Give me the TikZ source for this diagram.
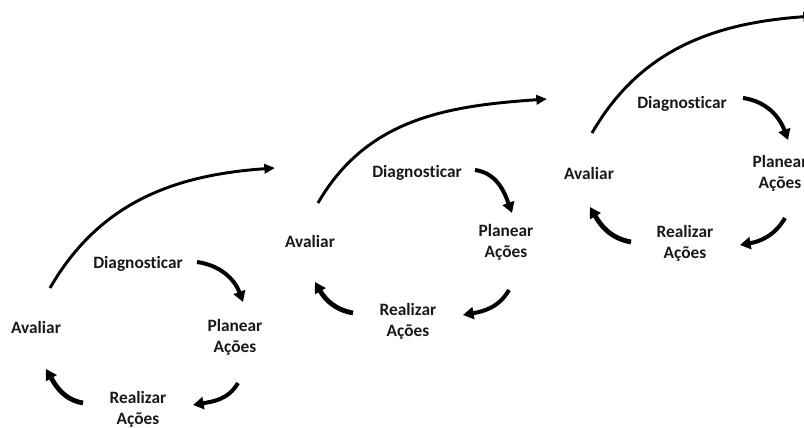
\documentclass[tikz,border=0pt]{standalone}
\usepackage{fontspec}
\setmainfont{Carlito}[Ligatures=NoCommon]
\usetikzlibrary{arrows.meta,calc}
\begin{document}
\begin{tikzpicture}[x=0.75pt,y=0.75pt,
  lbl/.style={font=\bfseries\fontsize{13}{15.75}\selectfont, align=center, inner sep=0pt, text=black!90},
  turn/.style={line width=3pt, -{Triangle[length=8pt,width=9pt]}},
  back/.style={turn, line width=3.6pt},
  leap/.style={line width=2.2pt, -{Triangle[length=8pt,width=7pt]}}]
\useasboundingbox (0,0) rectangle (804,428);
\clip (0,0) rectangle (804,428);

% ---- first cycle ----
\node[lbl] (d1) at (138,164) {Diagnosticar};
\node[lbl] (p1) at (235,90.5) {Planear\\Ações};
\node[lbl] (r1) at (138,18.5) {Realizar\\Ações};
\node[lbl] (a1) at (36,101) {Avaliar};
\draw[turn] ($(d1)+(59,2)$) to[out=-8,in=110] ($(p1)+(8,35.5)$);
\draw[turn] ($(p1)+(3,-45.5)$) to[out=-120,in=10] ($(r1)+(55,4.5)$);
\draw[back] ($(r1)+(-55,6.5)$) to[out=170,in=-60] ($(a1)+(10,-42)$);
\coordinate (n1) at (275,260);
\draw[leap] ($(a1)+(14,39)$) to[out=60,in=184] (n1);

% ---- second cycle ----
\node[lbl] (d2) at (417,255) {Diagnosticar};
\node[lbl] (p2) at (506,185.5) {Planear\\Ações};
\node[lbl] (r2) at (408,107) {Realizar\\Ações};
\node[lbl] (a2) at (310,187) {Avaliar};
\draw[turn] ($(d2)+(58,3)$) to[out=-8,in=110] ($(p2)+(6,29.5)$);
\draw[turn] ($(p2)+(3,-47.5)$) to[out=-120,in=10] ($(r2)+(55,6)$);
\draw[back] ($(r2)+(-55,8)$) to[out=170,in=-60] ($(a2)+(5,-41)$);
\coordinate (n2) at (547,329);
\draw[leap] ($(a2)+(8,38)$) to[out=60,in=184] (n2);

% ---- third cycle ----
\node[lbl] (d3) at (682,324) {Diagnosticar};
\node[lbl] (p3) at (780,255) {Planear\\Ações};
\node[lbl] (r3) at (685,185) {Realizar\\Ações};
\node[lbl] (a3) at (589,255) {Avaliar};
\draw[turn] ($(d3)+(61,6)$) to[out=-8,in=110] ($(p3)+(8,33)$);
\draw[turn] ($(p3)+(5,-45)$) to[out=-120,in=10] ($(r3)+(55,-2)$);
\draw[back] ($(r3)+(-54,1)$) to[out=170,in=-60] ($(a3)+(1,-34)$);
\coordinate (n3) at (814,412);
\draw[leap] ($(a3)+(3,40)$) to[out=60,in=184] (n3);
\end{tikzpicture}
\end{document}
